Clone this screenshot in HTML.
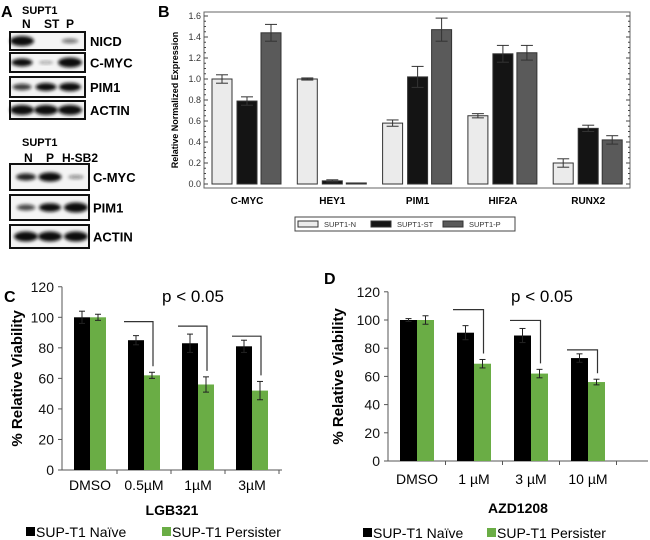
<!DOCTYPE html>
<html><head><meta charset="utf-8"><style>
body{margin:0;background:#fff}
svg{display:block;font-family:"Liberation Sans",Arial,sans-serif}
</style></head><body>
<svg id="fig" width="650" height="540" viewBox="0 0 650 540" xmlns="http://www.w3.org/2000/svg">
<defs>
<filter id="bl" x="-50%" y="-50%" width="200%" height="200%"><feGaussianBlur stdDeviation="1.6"/></filter>
</defs>
<g id="panelA" font-weight="bold">
<text x="1" y="17" font-size="16">A</text>
<text x="22" y="14" font-size="11">SUPT1</text>
<text x="22" y="28" font-size="12">N</text>
<text x="44" y="28" font-size="12">ST</text>
<text x="66" y="28" font-size="12">P</text>
<text x="22" y="146" font-size="11">SUPT1</text>
<text x="24" y="162" font-size="12">N</text>
<text x="46" y="162" font-size="12">P</text>
<text x="62" y="162" font-size="12">H-SB2</text>
</g>
<g id="panelB"></g>
<g id="panelC"></g>
<g id="panelD"></g>
</svg>
<script>
const NS='http://www.w3.org/2000/svg';
function mk(p,tag,at,txt){const e=document.createElementNS(NS,tag);for(const k in at)e.setAttribute(k,at[k]);if(txt!==undefined)e.textContent=txt;p.appendChild(e);return e;}

/* ---------- Panel A blots ---------- */
const blotLabels1=['NICD','C-MYC','PIM1','ACTIN'];
const blotIntensity1=[[1,0,0.25],[0.7,0.05,1],[0.5,0.7,0.8],[1,1,1]];
const blotLabels2=['C-MYC','PIM1','ACTIN'];
const blotIntensity2=[[0.6,0.9,0.15],[0.45,0.8,1],[1,1,1]];
const A=document.getElementById('panelA');
function blot(y,h,x0,x1,lanes,vals,label,lx){
  const g=mk(A,'g',{});
  
  
  mk(g,'rect',{x:x0,y:y,width:x1-x0,height:h,fill:'#f4f4f4',stroke:'#111','stroke-width':2});
  vals.forEach((v,i)=>{ if(v<=0.02)return;
    const e=mk(g,'ellipse',{cx:lanes[i],cy:y+h/2,rx:7+5*v,ry:1.5+3.5*v,fill:'#111','fill-opacity':Math.min(1,0.3+v),filter:'url(#bl)'});
    
    
  });
  const t=mk(A,'text',{x:lx,y:y+h/2+5,'font-size':13},label);
  
  
}
const b1y=[[32,18],[53,19],[77,20],[101,18]];
blotLabels1.forEach((l,i)=>blot(b1y[i][0],b1y[i][1],10,85,[22,46,70],blotIntensity1[i],l,90));
const b2y=[[164,26],[195,25],[225,23]];
blotLabels2.forEach((l,i)=>blot(b2y[i][0],b2y[i][1],10,89,[26,50,76],blotIntensity2[i],l,93));

/* ---------- Panel B ---------- */
const bCats=['C-MYC','HEY1','PIM1','HIF2A','RUNX2'];
const bN=[1.0,1.0,0.58,0.65,0.2];
const bST=[0.79,0.03,1.02,1.24,0.53];
const bP=[1.44,0.01,1.47,1.25,0.42];
const bNerr=[0.04,0.01,0.03,0.02,0.04];
const bSTerr=[0.04,0.01,0.1,0.08,0.03];
const bPerr=[0.08,0.0,0.11,0.07,0.04];
const bTicks=['0.0','0.2','0.4','0.6','0.8','1.0','1.2','1.4','1.6'];
const B=document.getElementById('panelB');
const byS=v=>184-v*105, bxC=i=>247+i*85.3;
let t=mk(B,'text',{x:158,y:17,'font-size':16,'font-weight':'bold'},'B');

let fr=mk(B,'rect',{x:204,y:12,width:426,height:176,fill:'#fff',stroke:'#666','stroke-width':1});

bTicks.forEach(s=>{const v=parseFloat(s),y=byS(v);
  const tx=mk(B,'text',{x:201,y:y+3,'font-size':9,'text-anchor':'end',fill:'#333'},s);
  
  mk(B,'line',{x1:204,x2:208,y1:y,y2:y,stroke:'#444'});mk(B,'line',{x1:626,x2:630,y1:y,y2:y,stroke:'#444'});
  if(v<1.6){for(let k=1;k<4;k++){const yy=y-k*5.25;mk(B,'line',{x1:204,x2:206,y1:yy,y2:yy,stroke:'#444'});mk(B,'line',{x1:628,x2:630,y1:yy,y2:yy,stroke:'#444'});}}
});
t=mk(B,'text',{x:0,y:0,'font-size':9,'font-weight':'bold','text-anchor':'middle',transform:'translate(178,100) rotate(-90)'},'Relative Normalized Expression');

const bSeries=[[bN,bNerr,'#ebebeb',-25,'n'],[bST,bSTerr,'#141414',0,'st'],[bP,bPerr,'#5a5a5a',24,'p']];
bCats.forEach((c,i)=>{
  bSeries.forEach(s=>{const v=s[0][i],e=s[1][i],x=bxC(i)+s[3]-10;
    const r=mk(B,'rect',{x:x,y:byS(v),width:20,height:byS(0)-byS(v),fill:s[2],stroke:'#333','stroke-width':1});
    
    if(e>0){const cx=x+10;mk(B,'line',{x1:cx,x2:cx,y1:byS(v+e),y2:byS(v-e),stroke:'#333'});
      mk(B,'line',{x1:cx-6,x2:cx+6,y1:byS(v+e),y2:byS(v+e),stroke:'#333'});mk(B,'line',{x1:cx-6,x2:cx+6,y1:byS(v-e),y2:byS(v-e),stroke:'#333'});}
  });
  const l=mk(B,'text',{x:bxC(i),y:204,'font-size':10,'font-weight':'bold','text-anchor':'middle'},c);
  
});
const lg=mk(B,'g',{});
mk(lg,'rect',{x:295,y:217,width:220,height:14,fill:'#fff',stroke:'#444'});
[['SUPT1-N','#ebebeb',298],['SUPT1-ST','#141414',371],['SUPT1-P','#5a5a5a',443]].forEach(a=>{
  mk(lg,'rect',{x:a[2],y:221,width:20,height:6,fill:a[1],stroke:'#333'});
  const tt=mk(lg,'text',{x:a[2]+26,y:227,'font-size':7.5,fill:'#333'},a[0]);
  
});

/* ---------- Panels C & D ---------- */
const cCats=['DMSO','0.5µM','1µM','3µM'];
const cNaive=[100,85,83,81];
const cPers=[100,62,56,52];
const cNaiveErr=[4,3,6,4];
const cPersErr=[2,2,5,6];
const dCats=['DMSO','1 µM','3 µM','10 µM'];
const dNaive=[100,91,89,73];
const dPers=[100,69,62,56];
const dNaiveErr=[1,5,5,3];
const dPersErr=[3,3,3,2];
const yTicksCD=[0,20,40,60,80,100,120];

function viab(gid,o){
  const G=document.getElementById(gid);
  const y=v=>o.y0-v*o.k, xc=i=>o.c0+i*o.sp;
  let t=mk(G,'text',{x:o.lx,y:o.ly,'font-size':16,'font-weight':'bold'},o.letter);
  
  yTicksCD.forEach(v=>{const tx=mk(G,'text',{x:o.ax-8,y:y(v)+5,'font-size':14,'text-anchor':'end',fill:'#111'},String(v));
    
    mk(G,'line',{x1:o.ax-4,x2:o.ax,y1:y(v),y2:y(v),stroke:'#555'});});
  mk(G,'line',{x1:o.ax,x2:o.ax,y1:y(120),y2:y(0),stroke:'#555'});
  mk(G,'line',{x1:o.ax,x2:o.axEnd,y1:y(0),y2:y(0),stroke:'#555'});
  o.cats.forEach((c,i)=>{
    const xb=xc(i)+o.sp/2;mk(G,'line',{x1:xb,x2:xb,y1:y(0),y2:y(0)+4,stroke:'#555'});
    [[o.nv,o.ne,'#000',-o.bw,'naive'],[o.pv,o.pe,'#6aad45',0,'persister']].forEach(s=>{
      const v=s[0][i],e=s[1][i],x=xc(i)+s[3];
      const r=mk(G,'rect',{x:x,y:y(v),width:o.bw,height:y(0)-y(v),fill:s[2]});
      
      const cx=x+o.bw/2;mk(G,'line',{x1:cx,x2:cx,y1:y(v+e),y2:y(v-e),stroke:'#222'});
      mk(G,'line',{x1:cx-3,x2:cx+3,y1:y(v+e),y2:y(v+e),stroke:'#222'});mk(G,'line',{x1:cx-3,x2:cx+3,y1:y(v-e),y2:y(v-e),stroke:'#222'});
    });
    const l=mk(G,'text',{x:xc(i),y:o.catY,'font-size':14,'text-anchor':'middle'},c);
    
    if(i>0){const hy=y(o.nv[i]+o.ne[i])-Math.max(4,10-2*i)-o.br[i],hx1=xc(i)-o.bw-4,hx2=xc(i)+o.bw/2+1,dy=y(o.pv[i]+o.pe[i])-6;
      const p=mk(G,'path',{d:`M${hx1},${hy}H${hx2}V${dy}`,fill:'none',stroke:'#333','stroke-width':1.2});
      }
  });
  t=mk(G,'text',{x:o.pX,y:o.pY,'font-size':17,'text-anchor':'middle'},'p < 0.05');
  
  t=mk(G,'text',{x:0,y:0,'font-size':15,'font-weight':'bold','text-anchor':'middle',transform:`translate(${o.ytx},${y(60)}) rotate(-90)`},'% Relative Viability');
  
  t=mk(G,'text',{x:(o.ax+o.axEnd)/2,y:o.xtY,'font-size':14,'font-weight':'bold','text-anchor':'middle'},o.xt);
  
  [[o.lg1,'#000','SUP-T1 Naïve'],[o.lg2,'#6aad45','SUP-T1 Persister']].forEach(a=>{
    mk(G,'rect',{x:a[0],y:o.lgY-10,width:9,height:9,fill:a[1]});
    const tt=mk(G,'text',{x:a[0]+10,y:o.lgY,'font-size':14},a[2]);
    
  });
}
viab('panelC',{letter:'C',lx:4,ly:302,y0:470,k:1.527,ax:62,axEnd:282,c0:90,sp:54,bw:16,cats:cCats,nv:cNaive,pv:cPers,ne:cNaiveErr,pe:cPersErr,br:[0,6,2,0],catY:490,pX:193,pY:302,ytx:22,xt:'LGB321',xtY:515,lg1:26,lg2:162,lgY:540-3});
viab('panelD',{letter:'D',lx:324,ly:284,y0:461,k:1.41,ax:388,axEnd:648,c0:417,sp:57,bw:17,cats:dCats,nv:dNaive,pv:dPers,ne:dNaiveErr,pe:dPersErr,br:[0,8,2,0],catY:484,pX:542,pY:302,ytx:343,xt:'AZD1208',xtY:513,lg1:363,lg2:487,lgY:540-2});
</script>
</body></html>
